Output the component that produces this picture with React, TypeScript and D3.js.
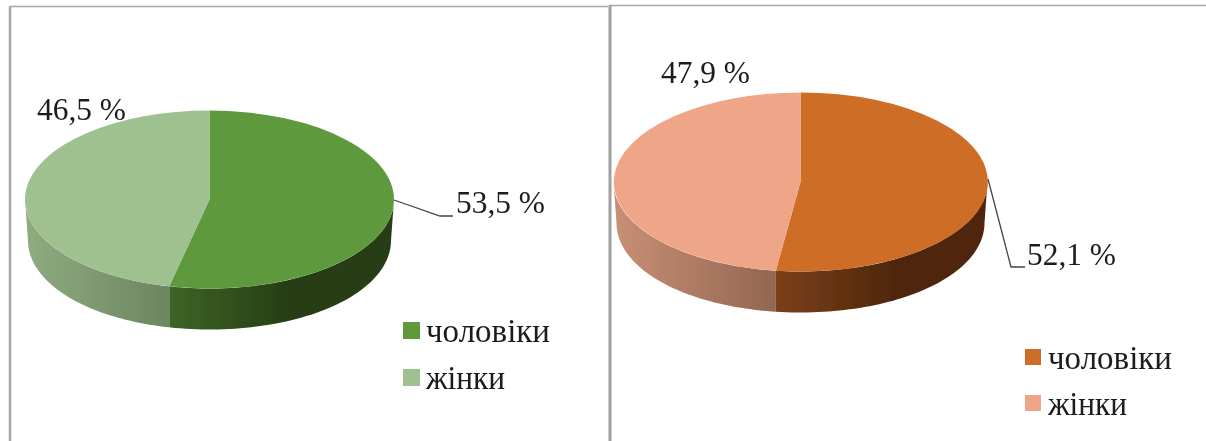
import React from "react";
import * as d3 from "d3";

const W = 1206;
const H = 441;
const categories = ["чоловіки", "жінки"];
const leftValues = [53.5, 46.5];
const rightValues = [52.1, 47.9];
const leftLabels = ["53,5 %", "46,5 %"];
const rightLabels = ["52,1 %", "47,9 %"];
const leftColors = ["#5f993c", "#9fc18f"];
const rightColors = ["#ce6d28", "#efa588"];
const leftWall = [["#3d6426", "#253d13"], ["#8fab80", "#6c8660"]];
const rightWall = [["#7c3f17", "#4f280c"], ["#c98f76", "#936650"]];

const FONT = "'Liberation Serif', 'Times New Roman', serif";
const LEGEND_WIDTHS = [124, 79];

type PieProps = {
  id: string;
  values: number[];
  colors: string[];
  walls: string[][];
  labels: string[];
  cx: number;
  cy: number;
  rx: number;
  ry: number;
  depth: number;
  labelPos: { x: number; y: number }[];
  leader: [number, number][];
  legendX: number;
  legendY: number;
  legendStep: number;
  swatch: number;
};

function Pie3D(p: PieProps) {
  const { id, values, colors, walls, labels, cx, cy, rx, ry, depth } = p;
  const arcs = d3.pie<number>().sort(null)(values);
  const arcGen = d3.arc<d3.PieArcDatum<number>>().innerRadius(0).outerRadius(1);
  const sx = d3.scaleLinear().domain([-1, 1]).range([cx - rx, cx + rx]);
  const sy = d3.scaleLinear().domain([-1, 1]).range([cy - ry, cy + ry]);

  const wallPath = (a0: number, a1: number) => {
    const lo = Math.max(a0, Math.PI / 2);
    const hi = Math.min(a1, (3 * Math.PI) / 2);
    if (hi <= lo) return "";
    const pts = d3.range(0, 61).map((i) => lo + ((hi - lo) * i) / 60);
    return (
      d3
        .area<number>()
        .x0((a) => sx(Math.sin(a)))
        .x1((a) => sx(Math.sin(a)) - 3 * Math.pow(Math.sin(a), 3))
        .y0((a) => sy(-Math.cos(a)))
        .y1((a) => sy(-Math.cos(a)) + depth)(pts) ?? ""
    );
  };

  return (
    <g>
      <defs>
        {arcs.map((a, i) => (
          <linearGradient key={i} id={`${id}-w${i}`} x1="0" x2="1" y1="0" y2="0">
            <stop offset="0" stopColor={walls[i][0]} />
            <stop offset={i === 0 ? "0.55" : "1"} stopColor={walls[i][1]} />
          </linearGradient>
        ))}
      </defs>
      {arcs.map((a, i) => (
        <path key={`w${i}`} d={wallPath(a.startAngle, a.endAngle)} fill={`url(#${id}-w${i})`} />
      ))}
      {arcs.map((a, i) => (
        <path
          key={`t${i}`}
          d={arcGen(a) ?? ""}
          transform={`translate(${cx},${cy}) scale(${rx},${ry})`}
          fill={colors[i]}
        />
      ))}
      <path d={d3.line()(p.leader) ?? ""} fill="none" stroke="#444" strokeWidth={1.3} />
      {labels.map((l, i) => (
        <text
          key={l}
          x={p.labelPos[i].x}
          y={p.labelPos[i].y}
          fontFamily={FONT}
          fontSize={32}
          fill="#1c1c1c"
          textLength={89}
          lengthAdjust="spacingAndGlyphs"
        >
          {l}
        </text>
      ))}
      {categories.map((c, i) => (
        <g key={c}>
          <rect
            x={p.legendX}
            y={p.legendY + i * p.legendStep - 11}
            width={p.swatch}
            height={p.swatch}
            fill={colors[i]}
          />
          <text
            x={p.legendX + 23}
            y={p.legendY + i * p.legendStep + 9}
            fontFamily={FONT}
            fontSize={33}
            fill="#1c1c1c"
            textLength={LEGEND_WIDTHS[i]}
            lengthAdjust="spacingAndGlyphs"
          >
            {c}
          </text>
        </g>
      ))}
    </g>
  );
}

export default function App() {
  return (
    <svg
      width={W}
      height={H}
      viewBox={`0 0 ${W} ${H}`}
      style={{ position: "absolute", left: 0, top: 0, background: "#fff" }}
    >
      <defs>
        <filter id="soft" x="-2%" y="-2%" width="104%" height="104%">
          <feGaussianBlur stdDeviation="0.5" />
        </filter>
      </defs>
      <g filter="url(#soft)">
        <path d="M10,441V6.5" fill="none" stroke="#a8a8a8" strokeWidth={2.5} />
        <path d="M9,6.5H608" fill="none" stroke="#a8a8a8" strokeWidth={1.5} />
        <path d="M610,441V5" fill="none" stroke="#a0a0a0" strokeWidth={3} />
        <path d="M609,5.5H1206" fill="none" stroke="#a8a8a8" strokeWidth={1.5} />
        <Pie3D
          id="l"
          values={leftValues}
          colors={leftColors}
          walls={leftWall}
          labels={leftLabels}
          cx={209.5}
          cy={199.5}
          rx={184.5}
          ry={89}
          depth={41}
          labelPos={[{ x: 456, y: 213 }, { x: 37, y: 120 }]}
          leader={[[394, 200], [440, 216], [453, 216]]}
          legendX={403}
          legendY={333}
          legendStep={47}
          swatch={17}
        />
        <Pie3D
          id="r"
          values={rightValues}
          colors={rightColors}
          walls={rightWall}
          labels={rightLabels}
          cx={800.5}
          cy={182}
          rx={187}
          ry={89.5}
          depth={41}
          labelPos={[{ x: 1027, y: 265 }, { x: 661, y: 83 }]}
          leader={[[988, 179], [1011, 267], [1025, 267]]}
          legendX={1025}
          legendY={360}
          legendStep={46}
          swatch={16}
        />
      </g>
    </svg>
  );
}
